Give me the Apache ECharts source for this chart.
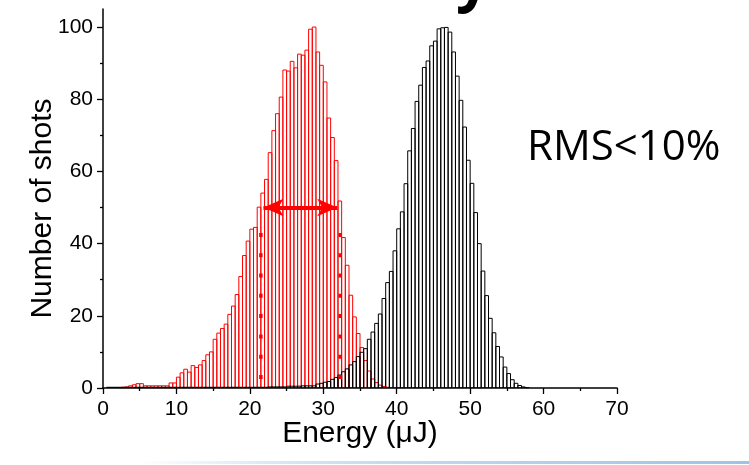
<!DOCTYPE html>
<html><head><meta charset="utf-8">
<script src="https://cdn.jsdelivr.net/npm/echarts@6/dist/echarts.min.js"></script>
<style>html,body{margin:0;padding:0;background:#fff}#c{width:749px;height:465px}</style>
</head><body><div id="c"></div>
<script>
// Histogram bins: left edges start at 0, width in µJ
const binWidth = 0.5;
// Counts per bin
const redCounts = [0,0,0,0,0,0.2,0.3,0.6,0.9,1.2,
  1.2,0.6,0.6,0.6,0.6,0.6,0.6,0.6,1.4,1.4,
  3.0,4.2,5.2,4.4,6.2,5.7,6.4,7.6,9.2,10.0,
  13.5,15.2,16.5,17.7,20.4,22.7,25.9,30.9,36.7,40.7,
  44.0,44.5,50.1,54.0,57.8,65.2,71.3,76.0,80.6,88.1,
  87.8,90.5,88.7,92.5,92.2,93.6,99.4,100,93.1,89.4,
  84.8,74.8,69.4,63.0,51.8,41.7,34.0,25.7,19.7,15.1,
  11.2,7.6,4.7,2.5,1.5,0.8,0.4,0.2];
const blackCounts = [0,0.2,0.2,0.2,0.2,0.2,0.2,0.2,0.2,0.2,
  0.2,0.2,0.2,0.2,0.2,0.2,0.2,0.2,0.2,0.2,
  0.2,0.2,0.2,0.2,0.2,0.2,0.2,0.2,0.2,0.2,
  0.2,0.2,0.2,0.2,0.2,0.2,0.2,0.2,0.2,0.2,
  0.2,0.2,0.2,0.2,0.2,0.3,0.3,0.3,0.3,0.3,
  0.5,0.5,0.5,0.5,0.6,0.6,0.6,0.6,1.1,1.3,
  1.6,1.8,2.4,2.9,3.6,4.5,5.3,6.4,7.3,8.7,
  9.9,10.9,13.5,15.5,17.9,20.5,24.8,29.2,32.3,38.0,
  44.1,48.8,56.6,65.7,71.9,79.4,83.9,88.8,90.6,94.8,
  96.1,99.5,99.8,99.9,98.6,93.1,86.4,79.7,72.3,63.1,
  56.7,48.6,40.0,32.4,25.6,19.3,15.3,11.5,8.6,5.8,
  4.0,2.3,1.3,0.7,0.3,0.1];
// Axis ticks
const xTicks = [0,10,20,30,40,50,60,70];
const yTicks = [0,20,40,60,80,100];
const yMinorTicks = [10,30,50,70,90];
// FWHM annotation (µJ, counts)
const fwhmLevel = 50;
const fwhmArrowEnds = [21.85, 31.9];
const fwhmMarkers = [21.5, 32.3];
const fwhmMarkerSpan = [2.5, 47.5];
const annotationText = 'RMS<10%';
const xTitle = 'Energy (\u03bcJ)';
const yTitle = 'Number of shots';

const chart = echarts.init(document.getElementById('c'), null, {renderer:'canvas'});
const toData = arr => arr.map((c, i) => [i * binWidth, c]);
function histRender(color) {
  return function (params, api) {
    const x0 = api.value(0), v = api.value(1);
    if (!(v > 0)) return null;
    const p0 = api.coord([x0, v]);
    const p1 = api.coord([x0 + binWidth, 0]);
    return {type:'rect', shape:{x:p0[0], y:p0[1], width:p1[0]-p0[0], height:p1[1]-p0[1]},
      style:{fill:'none', stroke:color, lineWidth:1}};
  };
}
const font = '"Liberation Sans", Arial, sans-serif';
const option = {
  backgroundColor:'#fff',
  animation:false,
  grid:{left:103, right:132, top:9, bottom:77},
  xAxis:{type:'value', min:0, max:70, interval:10,
    axisLine:{onZero:false, lineStyle:{color:'#000', width:1.5}},
    axisTick:{length:6, lineStyle:{color:'#000', width:1.3}},
    minorTick:{show:true, splitNumber:2, length:3, lineStyle:{color:'#000', width:1.3}},
    splitLine:{show:false},
    axisLabel:{color:'#000', fontSize:21, fontFamily:font, margin:11, customValues:xTicks},
    name:xTitle, nameLocation:'middle', nameGap:31, nameMoveOverlap:false,
    nameTextStyle:{color:'#000', fontSize:30, fontFamily:font}},
  yAxis:[{type:'value', min:0, max:105,
    axisLine:{show:true, lineStyle:{color:'#000', width:1.5}},
    axisTick:{show:true, length:6, customValues:yTicks, lineStyle:{color:'#000', width:1.3}},
    splitLine:{show:false},
    axisLabel:{color:'#000', fontSize:21, fontFamily:font, margin:10, customValues:yTicks},
    name:yTitle, nameLocation:'middle', nameGap:45, nameMoveOverlap:false,
    nameTextStyle:{color:'#000', fontSize:30, fontFamily:font, padding:[0,20,0,0]}},
   {type:'value', min:0, max:105, position:'left',
    axisLine:{show:false}, axisLabel:{show:false}, splitLine:{show:false},
    axisTick:{show:true, length:3, customValues:yMinorTicks, lineStyle:{color:'#000', width:1.3}}}],
  graphic:[
    {type:'text', left:527, top:127, style:{text:annotationText, font:'42px "Open Sans", sans-serif', fill:'#000'}},
    {type:'text', left:456, top:-48, style:{text:'y', font:'bold 60px "Open Sans", sans-serif', fill:'#000'}},
    {type:'rect', shape:{x:140, y:461, width:609, height:3},
     style:{fill:new echarts.graphic.LinearGradient(0,0,1,0,[{offset:0,color:'rgba(157,195,230,0)'},{offset:0.5,color:'#bcd6ee'},{offset:1,color:'#9dc3e6'}])}}
  ],
  series:[
    {type:'custom', name:'red', data:toData(redCounts), encode:{x:0, y:1}, renderItem:histRender('#ff0000'), clip:true, z:2,
     markLine:{silent:true, symbol:['arrow','arrow'], symbolSize:[13,20], animation:false,
       label:{show:false}, lineStyle:{color:'#ff0000', width:4, type:'solid'},
       data:[[{coord:[fwhmArrowEnds[0], fwhmLevel]},{coord:[fwhmArrowEnds[1], fwhmLevel]}]]}},
    {type:'custom', name:'black', data:toData(blackCounts), encode:{x:0, y:1}, renderItem:histRender('#000000'), clip:true, z:3},
    {type:'line', data:[[fwhmMarkers[0], fwhmMarkerSpan[0]],[fwhmMarkers[0], fwhmMarkerSpan[1]]], symbol:'none',
     lineStyle:{color:'#ff0000', width:3.5, type:[4,16.3]}, z:4},
    {type:'line', data:[[fwhmMarkers[1], fwhmMarkerSpan[0]],[fwhmMarkers[1], fwhmMarkerSpan[1]]], symbol:'none',
     lineStyle:{color:'#ff0000', width:3.5, type:[4,16.3]}, z:4}
  ]
};
chart.setOption(option);
</script></body></html>
